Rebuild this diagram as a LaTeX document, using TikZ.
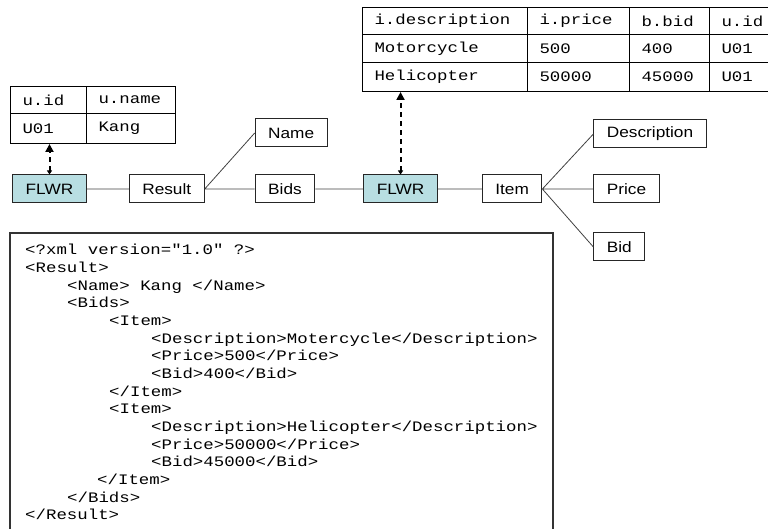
\documentclass[tikz,border=0pt]{standalone}
\usepackage{fontspec}
\newfontfamily\boxfont{Liberation Sans}[FakeStretch=1.15]
\newfontfamily\codefont{Liberation Mono}[FakeStretch=1.2]
\usetikzlibrary{positioning,arrows.meta}
\definecolor{flwrblue}{RGB}{184,222,226}
\newcommand\ind[1]{\hspace*{#1pt}}
\tikzstyle{box}=[rectangle,draw=black!85,line width=1pt,fill=white,minimum height=28pt,inner xsep=13pt,font=\boxfont\fontsize{15}{18}\selectfont]
\tikzstyle{flwr}=[box,fill=flwrblue]
\tikzstyle{cell}=[rectangle,draw=black,line width=1pt,anchor=north west,inner xsep=12pt,inner ysep=0pt,align=left,font=\codefont\fontsize{14.5}{17.67}\selectfont]
\tikzstyle{code}=[anchor=north west,inner sep=0pt,align=left,font=\codefont\fontsize{14.5}{17.67}\selectfont]
\tikzstyle{link}=[draw=black!75,line width=0.8pt]
\tikzstyle{ref}=[draw=black,line width=2pt,dash pattern=on 5pt off 4pt,{Triangle[length=4pt,width=5pt]}-{Triangle[length=8pt,width=8pt]}]

\begin{document}
\begin{tikzpicture}[x=1pt,y=1pt]
  \useasboundingbox (0,0) rectangle (768,-529);

  % user table
  \node[cell,text width=52pt,minimum height=27pt] (uid)   at (10,-86)  {u.id};
  \node[cell,text width=65pt,minimum height=27pt] (uname) at (86,-86)  {u.name};
  \node[cell,text width=52pt,minimum height=30pt] (uval)  at (10,-113) {U01};
  \node[cell,text width=65pt,minimum height=30pt] (kang)  at (86,-113) {Kang};

  % item table
  \foreach \r/\y/\h/\da/\db/\dc/\dd in {0/7/27/i.description/i.price/b.bid/u.id,
                                        1/34/28/Motorcycle/500/400/U01,
                                        2/62/29/Helicopter/50000/45000/U01} {
    \node[cell,text width=141pt,minimum height=\h pt] (tdesc\r)  at (362,-\y) {\da};
    \node[cell,text width=78pt,minimum height=\h pt]  (tprice\r) at (527,-\y) {\db};
    \node[cell,text width=56pt,minimum height=\h pt]  (tbid\r)   at (629,-\y) {\dc};
    \node[cell,text width=56pt,minimum height=\h pt]  (tuser\r)  at (709,-\y) {\dd};
  }

  % query tree
  \node[flwr] (flwrA) at (49.5,-189)      {FLWR};
  \node[box]  (result) [right=42pt of flwrA]  {Result};
  \node[box]  (bids)   [right=50pt of result] {Bids};
  \node[flwr] (flwrB)  [right=48pt of bids]   {FLWR};
  \node[box]  (item)   [right=44pt of flwrB]  {Item};
  \node[box]  (price)  [right=51pt of item]   {Price};
  \node[box,anchor=south west] (name)  at ([yshift=27pt]bids.north west)   {Name};
  \node[box,anchor=south west] (descr) at ([yshift=26pt]price.north west)  {Description};
  \node[box,anchor=north west] (bid)   at ([yshift=-29pt]price.south west) {Bid};

  \draw[link] (flwrA) -- (result)
              (result.east) -- (name.west)
              (result) -- (bids)
              (bids) -- (flwrB)
              (flwrB) -- (item)
              (item.east) -- (descr.west)
              (item) -- (price)
              (item.east) -- (bid.west);

  \draw[ref] (flwrA.north) -- (flwrA.north |- uval.south);
  \draw[ref] (flwrB.north) -- (flwrB.north |- tdesc2.south);

  % result document
  \draw[draw=black!80,line width=1.3pt] (10,-233) rectangle (553,-540);
  \node[code] (xml) at (25,-244) {%
<?xml version="1.0" ?>\\
<Result>\\
\ind{42}<Name> Kang </Name>\\
\ind{42}<Bids>\\
\ind{84}<Item>\\
\ind{126}<Description>Motercycle</Description>\\
\ind{126}<Price>500</Price>\\
\ind{126}<Bid>400</Bid>\\
\ind{84}</Item>\\
\ind{84}<Item>\\
\ind{126}<Description>Helicopter</Description>\\
\ind{126}<Price>50000</Price>\\
\ind{126}<Bid>45000</Bid>\\
\ind{72}</Item>\\
\ind{42}</Bids>\\
</Result>};
\end{tikzpicture}
\end{document}
